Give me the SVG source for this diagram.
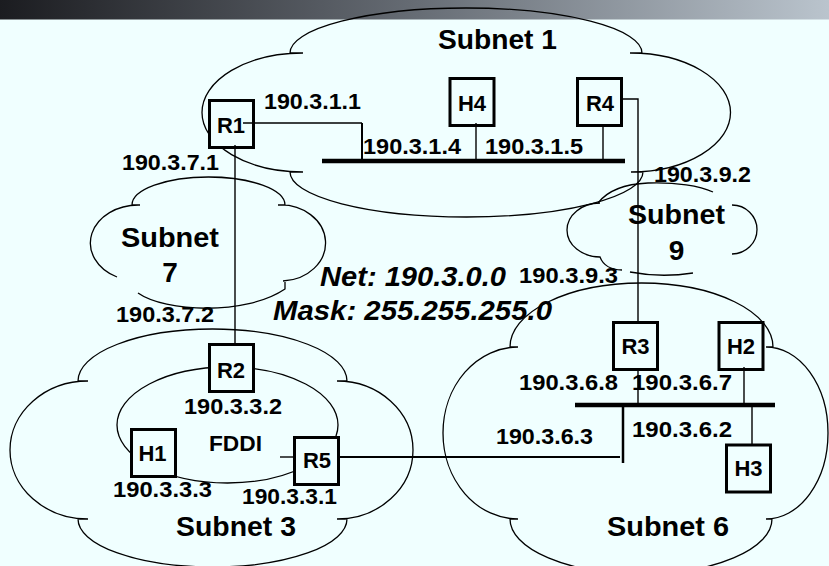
<svg xmlns="http://www.w3.org/2000/svg" width="829" height="566" viewBox="0 0 829 566">
<defs>
<linearGradient id="hdr" x1="0" y1="0" x2="1" y2="0">
<stop offset="0" stop-color="#1b1c20"/>
<stop offset="0.5" stop-color="#666c74"/>
<stop offset="1" stop-color="#bac4cd"/>
</linearGradient>
<style>
.cloud{fill:none;stroke:#000;stroke-width:1.3}
.box{fill:#F0FFFF;stroke:#000;stroke-width:3}
.ln{fill:none;stroke:#000;stroke-width:1.4}
.bus{fill:none;stroke:#000;stroke-width:4.5}
text{font-family:"Liberation Sans",Arial,sans-serif;font-weight:bold;fill:#000}
.ip{font-size:22.5px}
.big{font-size:28px}
.nl{font-size:22px;text-anchor:middle}
.it{font-size:28px;font-style:italic}
</style>
</defs>
<rect x="0" y="0" width="829" height="566" fill="#F0FFFF"/>
<rect x="0" y="0" width="829" height="19.5" fill="url(#hdr)"/>

<g id="subnet1">
<path class="cloud" d="M290,53 A176 45 0 0 1 642,53 L630,53 A100 59.5 0 0 1 631,172 L643,172 A176.5 45 0 0 1 290,172 L303,172 A101 59.5 0 0 1 303,53 Z"/>
<text class="big" x="438" y="49" textLength="119" lengthAdjust="spacingAndGlyphs">Subnet 1</text>
</g>
<g id="subnet9">
<path class="cloud" d="M598,203 C608,190 625,184 648,183 C676,182 700,186 713,192"/>
<path class="cloud" d="M600,203 A33 27 0 0 0 600,257 C603,265 611,270 622,270"/>
<path class="cloud" d="M630,272 Q661,278 693,273"/>
<path class="cloud" d="M732,205 A25 24.5 0 0 1 732,254"/>
<text class="big" x="628" y="224" textLength="97" lengthAdjust="spacingAndGlyphs">Subnet</text>
<text class="big" x="676.5" y="260" text-anchor="middle">9</text>
</g>
<g id="subnet7">
<path class="cloud" d="M132,205 A76.5 28 0 0 1 285,205 L278,205 A45 38 0 0 1 283,281"/>
<path class="cloud" d="M132,205 L140,205 A48 38 0 0 0 117,277"/>
<path class="cloud" d="M138,293 C165,312 245,316 285,289 L285,282"/>
<text class="big" x="121" y="247" textLength="98" lengthAdjust="spacingAndGlyphs">Subnet</text>
<text class="big" x="170" y="282" text-anchor="middle">7</text>
</g>
<g id="subnet3">
<path class="cloud" d="M78,381 A134.5 52 0 0 1 347,381 L337,381 A76 69 0 0 1 337,519 L347,519 A134.5 48 0 0 1 78,519 L88,519 A78 69 0 0 1 88,381 Z"/>
<ellipse class="cloud" cx="227.5" cy="425" rx="110.5" ry="58"/>
<text class="ip" x="209" y="451" textLength="53" lengthAdjust="spacingAndGlyphs">FDDI</text>
<text class="big" x="176" y="536" textLength="120" lengthAdjust="spacingAndGlyphs">Subnet 3</text>
</g>
<g id="subnet6">
<path class="cloud" d="M510,347 A131.5 64 0 0 1 773,347 L766,347 A62 86 0 0 1 766,519 L772,519 A131 55 0 0 1 510,519 L518,519 A75 86 0 0 1 518,347 Z"/>
<text class="big" x="607" y="536" textLength="122" lengthAdjust="spacingAndGlyphs">Subnet 6</text>
</g>

<g id="R1"><rect class="box" x="209.5" y="100.5" width="44" height="47"/><text class="nl" x="231" y="133">R1</text></g>
<g id="H4"><rect class="box" x="450" y="78.5" width="44" height="47"/><text class="nl" x="472" y="111">H4</text></g>
<g id="R4"><rect class="box" x="577.5" y="78.5" width="44" height="47"/><text class="nl" x="600" y="111">R4</text></g>
<g id="R2"><rect class="box" x="209.5" y="344.5" width="44" height="47"/><text class="nl" x="231" y="378">R2</text></g>
<g id="R3"><rect class="box" x="613.5" y="322.5" width="44" height="47"/><text class="nl" x="635.5" y="354">R3</text></g>
<g id="H2"><rect class="box" x="719" y="322.5" width="44" height="47"/><text class="nl" x="741" y="354">H2</text></g>
<g id="H1"><rect class="box" x="131.5" y="429.5" width="44" height="47"/><text class="nl" x="152.5" y="461">H1</text></g>
<g id="R5"><rect class="box" x="294.5" y="437.5" width="44" height="47"/><text class="nl" x="317" y="468">R5</text></g>
<g id="H3"><rect class="box" x="726.5" y="445" width="44" height="47"/><text class="nl" x="748.5" y="476">H3</text></g>

<g id="connectors">
<path class="bus" d="M322,161 H625"/>
<path class="bus" d="M575,405 H775"/>
<path class="ln" d="M243,123 H362"/>
<path class="ln" d="M362,123 V161" style="stroke-width:2"/>
<path class="ln" d="M235,145 V344"/>
<path class="ln" d="M476,123 V161"/>
<path class="ln" d="M603,127 V161"/>
<path class="ln" d="M623,99 H638 V322"/>
<path class="ln" d="M638,370 V407"/>
<path class="ln" d="M744,367 V405"/>
<path class="ln" d="M752,405 V445"/>
<path class="ln" d="M280,457 H294"/>
<path class="ln" d="M340,457 H620" style="stroke-width:2"/>
<path class="ln" d="M623,407 V463" style="stroke-width:2.5"/>
</g>

<g id="labels">
<text class="ip" x="264" y="109" textLength="97" lengthAdjust="spacingAndGlyphs">190.3.1.1</text>
<text class="ip" x="122" y="170" textLength="97" lengthAdjust="spacingAndGlyphs">190.3.7.1</text>
<text class="ip" x="363" y="154" textLength="98" lengthAdjust="spacingAndGlyphs">190.3.1.4</text>
<text class="ip" x="485" y="154" textLength="98" lengthAdjust="spacingAndGlyphs">190.3.1.5</text>
<text class="ip" x="654" y="182" textLength="97" lengthAdjust="spacingAndGlyphs">190.3.9.2</text>
<text class="ip" x="519" y="283" textLength="99" lengthAdjust="spacingAndGlyphs">190.3.9.3</text>
<text class="ip" x="116" y="322" textLength="98" lengthAdjust="spacingAndGlyphs">190.3.7.2</text>
<text class="ip" x="184" y="414" textLength="98" lengthAdjust="spacingAndGlyphs">190.3.3.2</text>
<text class="ip" x="113" y="497" textLength="99" lengthAdjust="spacingAndGlyphs">190.3.3.3</text>
<text class="ip" x="242" y="504" textLength="95" lengthAdjust="spacingAndGlyphs">190.3.3.1</text>
<text class="ip" x="519" y="390" textLength="99" lengthAdjust="spacingAndGlyphs">190.3.6.8</text>
<text class="ip" x="632" y="390" textLength="100" lengthAdjust="spacingAndGlyphs">190.3.6.7</text>
<text class="ip" x="496" y="444" textLength="97" lengthAdjust="spacingAndGlyphs">190.3.6.3</text>
<text class="ip" x="632" y="437" textLength="100" lengthAdjust="spacingAndGlyphs">190.3.6.2</text>
<text class="it" x="320" y="286" textLength="186" lengthAdjust="spacingAndGlyphs">Net: 190.3.0.0</text>
<text class="it" x="273" y="320" textLength="279" lengthAdjust="spacingAndGlyphs">Mask: 255.255.255.0</text>
</g>
</svg>
